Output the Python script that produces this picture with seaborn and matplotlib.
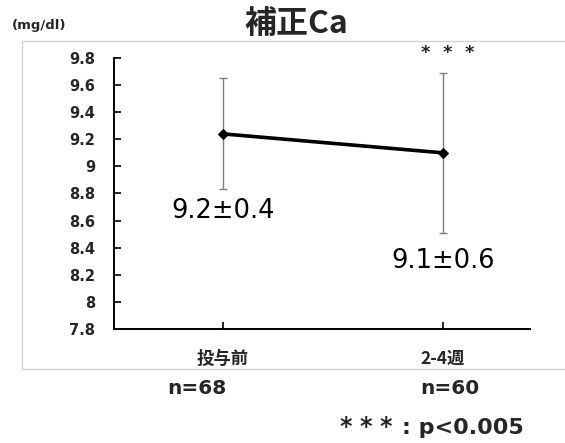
import matplotlib
matplotlib.use("Agg")
import matplotlib.pyplot as plt
import seaborn as sns
import pandas as pd
from matplotlib.patches import Rectangle

# Corrected calcium, mean ± SD per time point
groups = ["投与前", "2-4週"]
means = [9.24, 9.10]
sds = [0.41, 0.59]
n_counts = [68, 60]
y_ticks = [7.8, 8.0, 8.2, 8.4, 8.6, 8.8, 9.0, 9.2, 9.4, 9.6, 9.8]
y_tick_labels = ["7.8", "8", "8.2", "8.4", "8.6", "8.8", "9", "9.2", "9.4", "9.6", "9.8"]

sns.set_theme(style="white")
LATIN = ["DejaVu Sans", "Noto Sans CJK JP"]
CJK = ["Noto Sans CJK JP", "DejaVu Sans"]
plt.rcParams["font.family"] = LATIN

df = pd.DataFrame({"pos": range(len(groups)), "group": groups, "mean": means, "sd": sds})

fig = plt.figure(figsize=(5.65, 4.43), dpi=100)
ax = fig.add_axes([114 / 565, 1 - 329 / 443, (530 - 114) / 565, (329 - 58) / 443])

# light frame around the chart area
fig.patches.append(Rectangle((22 / 565, 1 - 369 / 443), 1.0, (369 - 41) / 443,
                             transform=fig.transFigure, fill=False,
                             edgecolor="#d4d4d4", linewidth=1.0, zorder=0))

ax.errorbar(df["pos"], df["mean"], yerr=df["sd"], fmt="none", ecolor="#7f7f7f",
            elinewidth=1.0, capsize=3, capthick=1.0, zorder=2)
sns.lineplot(data=df, x="pos", y="mean", ax=ax, color="black", linewidth=2.6,
             marker="D", markersize=5, markeredgecolor="black", zorder=3)

ax.set_xlim(-0.495, 1.395)
ax.set_ylim(7.8, 9.8)
ax.set_yticks(y_ticks)
ax.set_yticklabels(y_tick_labels, fontsize=10.5, fontweight="bold")
ax.set_xticks(df["pos"])
ax.set_xticklabels(groups, fontsize=12.5, fontweight="bold", family=CJK)
ax.tick_params(axis="both", direction="in", length=5, width=1.2, color="black",
               left=True, bottom=True)
ax.tick_params(axis="y", pad=13.5)
ax.tick_params(axis="x", pad=15)
ax.set_xlabel("")
ax.set_ylabel("")
for side in ["top", "right"]:
    ax.spines[side].set_visible(False)
for side in ["left", "bottom"]:
    ax.spines[side].set_color("black")
    ax.spines[side].set_linewidth(1.4)

# mean ± SD labels
label_y = [8.67, 8.30]
for pos, m, s, ly in zip(df["pos"], means, sds, label_y):
    ax.text(pos, ly, f"{m:.1f}±{s:.1f}", ha="center", va="center", fontsize=18.5,
            color="black")

# significance mark over the second time point
ax.text(1.02, 9.84, "*  *  *", ha="center", va="center", fontsize=13, fontweight="bold",
        clip_on=False)

fig.text(296 / 565, 1 - 24 / 443, "補正Ca", ha="center", va="center", fontsize=23,
         fontweight="bold", family=CJK)
fig.text(12 / 565, 1 - 26 / 443, "(mg/dl)", ha="left", va="center", fontsize=9.5,
         fontweight="bold")

n_x = [197, 450]
for nx, n in zip(n_x, n_counts):
    fig.text(nx / 565, 1 - 388 / 443, f"n={n}", ha="center", va="center", fontsize=14.5,
             fontweight="bold")

# footnote: significance legend
for sx in (346, 366, 386):
    fig.text(sx / 565, 1 - 427 / 443, "*", ha="center", va="center",
             fontsize=17, fontweight="bold")
fig.text(402 / 565, 1 - 428 / 443, ": p<0.005", ha="left", va="center",
         fontsize=16, fontweight="bold")

fig.savefig("out.png", dpi=100)
